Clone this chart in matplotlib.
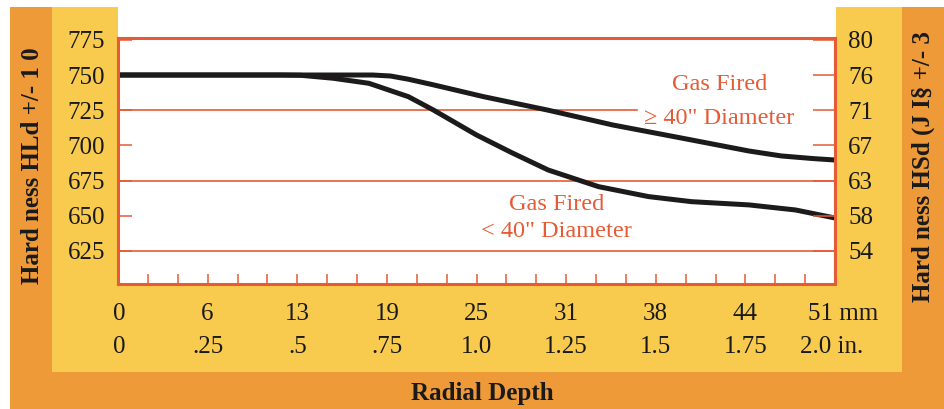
import matplotlib
matplotlib.use("Agg")
import matplotlib.pyplot as plt
from matplotlib.patches import Rectangle
import matplotlib.transforms as mtransforms
import numpy as np

# ---------------- data ----------------
depth_large = [0, 0.50, 0.71, 0.76, 0.81, 0.88, 1.02, 1.20, 1.38, 1.57, 1.76, 1.85, 1.94, 2.0]
hard_large = [750, 750, 750, 749.3, 747, 743, 734.6, 725, 714.5, 705.3, 696, 692.5, 690.6, 689.6]

depth_small = [0, 0.45, 0.51, 0.60, 0.70, 0.81, 0.88, 1.00, 1.10, 1.20, 1.34, 1.48, 1.60, 1.76, 1.89, 2.0]
hard_small = [750, 750, 749.8, 747.7, 744.1, 734.6, 725.1, 707.4, 694.6, 682.5, 670.7, 663.6, 660.0, 657.7, 654.1, 648.4]

hld_ticks = [625, 650, 675, 700, 725, 750, 775]
hsd_labels = ["54", "58", "63", "67", "71", "76", "80"]

inch_ticks = [0, 0.25, 0.5, 0.75, 1.0, 1.25, 1.5, 1.75, 2.0]
mm_labels = ["0", "6", "13", "19", "25", "31", "38", "44", "51 mm"]
in_labels = ["0", ".25", ".5", ".75", "1.0", "1.25", "1.5", "1.75", "2.0 in."]

# ---------------- style ----------------
ORANGE = "#EE9A38"
YELLOW = "#F8CB4E"
RED = "#E55B35"
INK = "#1c1a1a"
FONT = ["Liberation Serif", "DejaVu Serif"]
plt.rcParams["font.family"] = FONT

W, H = 944, 409
fig = plt.figure(figsize=(W / 100, H / 100), dpi=100)
fig.patch.set_facecolor("white")

def fx(px):
    return px / W

def fy(py):
    return 1 - py / H

# background frames
fig.patches.append(Rectangle((fx(10), 0), fx(934), 1 - 7 / H, transform=fig.transFigure,
                             facecolor=ORANGE, edgecolor="none", zorder=-3))
fig.patches.append(Rectangle((fx(52), fy(372)), fx(850), (372 - 7) / H, transform=fig.transFigure,
                             facecolor=YELLOW, edgecolor="none", zorder=-2))
fig.patches.append(Rectangle((fx(118), fy(38)), fx(718), 31 / H, transform=fig.transFigure,
                             facecolor="white", edgecolor="none", zorder=-1))

ax = fig.add_axes([fx(118), fy(284), fx(835 - 118), (284 - 38) / H])
ax.set_facecolor("white")
ax.set_xlim(0, 2.0)
ax.set_ylim(601.5, 776.3)

for s in ax.spines.values():
    s.set_color(RED)
    s.set_linewidth(2.2)
    s.set_zorder(5)

# gridlines
ax.axhline(725, xmin=0, xmax=(637 - 118) / 717, color=RED, lw=1.2, zorder=1)
ax.axhline(675, color=RED, lw=1.2, zorder=1)
ax.axhline(625, color=RED, lw=1.2, zorder=1)

# y ticks left
ax.set_yticks(hld_ticks)
ax.set_yticklabels([str(v) for v in hld_ticks])
ax.tick_params(axis="y", direction="in", length=10, width=1.1, color=RED,
               pad=9.4, labelsize=18, labelcolor="#1a1a1a")

# x ticks
minor = np.arange(1, 24) / 12.0
ax.set_xticks(minor)
ax.set_xticklabels([])
ax.tick_params(axis="x", direction="in", length=7, width=1.1, color=RED)

# right axis
ax2 = ax.twinx()
ax2.set_ylim(ax.get_ylim())
ax2.set_yticks(hld_ticks)
ax2.set_yticklabels(hsd_labels)
ax2.tick_params(axis="y", direction="in", length=16, width=1.1, color=RED,
                pad=9.4, labelsize=18, labelcolor="#1a1a1a")
for s in ax2.spines.values():
    s.set_visible(False)

# curves
ax.plot(depth_large, hard_large, color=INK, lw=3.6, zorder=4, solid_capstyle="butt")
ax.plot(depth_small, hard_small, color=INK, lw=3.6, zorder=4, solid_capstyle="butt")

# annotations
ax.text(1.679, 739.1, "Gas Fired", color=RED, fontsize=17.5, ha="center", va="baseline", zorder=6)
ax.text(1.676, 715.4, "\u2265 40\" Diameter", color=RED, fontsize=17.5, ha="center", va="baseline", zorder=6)
ax.text(1.224, 653.8, "Gas Fired", color=RED, fontsize=17.5, ha="center", va="baseline", zorder=6)
ax.text(1.224, 634.9, "< 40\" Diameter", color=RED, fontsize=17.5, ha="center", va="baseline", zorder=6)

# bottom labels
trans = mtransforms.blended_transform_factory(ax.transData, fig.transFigure)
for i, (x, m, n) in enumerate(zip(inch_ticks, mm_labels, in_labels)):
    if i == len(inch_ticks) - 1:
        ax.text(1.924, fy(320), m, transform=trans, ha="left", va="baseline",
                fontsize=18, color="#1a1a1a", clip_on=False)
        ax.text(1.902, fy(353), n, transform=trans, ha="left", va="baseline",
                fontsize=18, color="#1a1a1a", clip_on=False)
    else:
        xx = x if i > 0 else 0.003
        ax.text(xx, fy(320), m, transform=trans, ha="center", va="baseline",
                fontsize=18, color="#1a1a1a", clip_on=False)
        ax.text(xx, fy(353), n, transform=trans, ha="center", va="baseline",
                fontsize=18, color="#1a1a1a", clip_on=False)

fig.text(fx(482), fy(400), "Radial Depth", ha="center", va="baseline",
         fontsize=18, fontweight="bold", color="#1a1a1a")
fig.text(fx(33), fy(166), "Hard ness HLd +/- 1 0", rotation=90, ha="center", va="center",
         fontsize=18, fontweight="bold", color="#1a1a1a")
fig.text(fx(923), fy(167), "Hard ness HSd (J I\u00a7 +/- 3", rotation=90, ha="center", va="center",
         fontsize=18, fontweight="bold", color="#1a1a1a")

fig.savefig("out.png", dpi=100)
